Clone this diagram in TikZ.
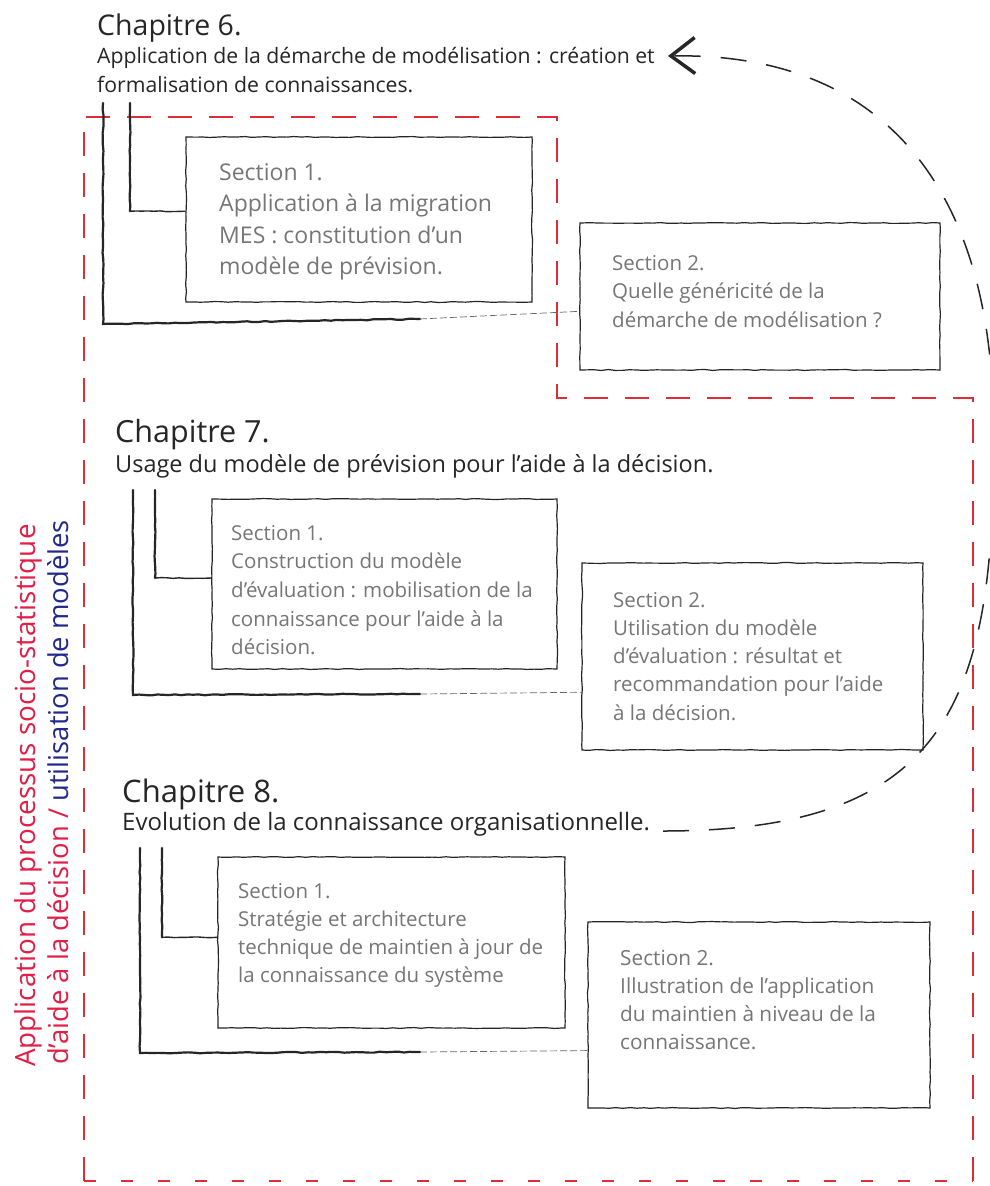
\documentclass[tikz,border=0pt]{standalone}
\usepackage{fontspec}
\setmainfont{Open Sans}
\usetikzlibrary{arrows.meta,decorations.pathmorphing,calc}
\definecolor{framered}{RGB}{222,45,55}
\definecolor{titlered}{RGB}{226,30,70}
\definecolor{titleblue}{RGB}{35,40,140}
\definecolor{sectgrey}{RGB}{118,118,118}
\definecolor{ink}{RGB}{38,38,38}
\newcommand\tlines[2]{\vtop{\baselineskip=#1\lineskiplimit=-100pt\lineskip=0pt\relax #2}}
\begin{document}
\begin{tikzpicture}[x=1pt,y=-1pt,
  sbox/.style={draw=ink, line width=1.2pt, inner sep=0pt, decorate,
    decoration={random steps,segment length=7pt,amplitude=0.45pt}},
  brk/.style={draw=ink, line width=2.2pt, line cap=round, decorate,
    decoration={random steps,segment length=6pt,amplitude=0.5pt}},
  brkmid/.style={draw=ink, line width=1.4pt, decorate,
    decoration={random steps,segment length=6pt,amplitude=0.4pt}},
  brkthin/.style={draw=ink!70, line width=0.7pt, dash pattern=on 7pt off 3pt},
  rframe/.style={draw=framered, line width=1.3pt, dash pattern=on 24pt off 17pt},
  rbottom/.style={draw=framered, line width=1.3pt, dash pattern=on 12pt off 25pt},
  arcline/.style={draw=ink, line width=1.5pt, dash pattern=on 26pt off 20pt},
  ttl/.style={anchor=base west, inner sep=0pt, text=ink, font=\fontsize{28.5}{30}\selectfont},
  subt/.style={anchor=base west, inner sep=0pt, text=ink, font=\fontsize{21.2}{29}\selectfont},
  sect/.style={anchor=base west, inner sep=0pt, text=sectgrey, font=\fontsize{20.5}{28.5}\selectfont},
  side/.style={rotate=90, anchor=base west, inner sep=0pt}
]
\pgfmathsetseed{7}
\useasboundingbox (0,0) rectangle (989,1186);
\fill[white] (0,0) rectangle (989,1186);

% ---------------- red frame ----------------
\coordinate (rA) at (84,1181);
\coordinate (rB) at (84,117);
\coordinate (rC) at (557,117);
\coordinate (rD) at (557,398);
\coordinate (rE) at (973,398);
\coordinate (rF) at (973,1181);
\draw[rframe] (rA) -- (rB) -- (rC) -- (rD) -- (rE) -- (rF);
\draw[rbottom] (rA) -- (rF);

% ---------------- side text ----------------
\node[side, text=titlered, font=\fontsize{27.8}{28}\selectfont] (side1) at (35,1067) {Application du processus socio-statistique};
\node[side, text=titlered, font=\fontsize{27.4}{28}\selectfont] (side2) at (68,1065) {d’aide à la décision / \textcolor{titleblue}{utilisation de modèles}};

% ---------------- Chapitre 6 ----------------
\node[ttl] (c6) at (97,35) {Chapitre 6.};
\node[subt] (sub6) at (97,63) {\tlines{29pt}{\hbox{Application de la démarche de modélisation : création et}\hbox{formalisation de connaissances.}}};

\node[sbox, minimum width=346pt, minimum height=165pt] (s61) at (359,219.5) {};
\node[sbox, minimum width=360pt, minimum height=147pt] (s62) at (760,296.5) {};
\node[sect, font=\fontsize{23}{31.5}\selectfont] (t61) at (219,180) {\tlines{31.5pt}{\hbox{Section 1.}\hbox{Application à la migration}\hbox{MES : constitution d’un}\hbox{modèle de prévision.}}};
\node[sect] (t62) at (612,270) {\tlines{28.5pt}{\hbox{Section 2.}\hbox{Quelle généricité de la}\hbox{démarche de modélisation ?}}};

\coordinate (o6t) at (103,103);
\coordinate (o6c) at (103,324);
\coordinate (o6m) at (420,319);
\draw[brk] (o6t) -- (o6c) -- (o6m);
\draw[brkthin] (o6m) -- ($(s62.south west)!0.4!(s62.north west)$);
\coordinate (i6t) at (130,103);
\coordinate (i6e) at ($(s61.north west)!0.45!(s61.south west)$);
\draw[brk] (i6t) -- (i6t |- i6e);
\draw[brkmid] (i6t |- i6e) -- (i6e);

% ---------------- Chapitre 7 ----------------
\node[ttl, font=\fontsize{30.5}{32}\selectfont] (c7) at (115,442) {Chapitre 7.};
\node[subt, font=\fontsize{23.5}{29}\selectfont] (sub7) at (115,472) {Usage du modèle de prévision pour l’aide à la décision.};

\node[sbox, minimum width=345pt, minimum height=170pt] (s71) at (384.5,584) {};
\node[sbox, minimum width=341pt, minimum height=187pt] (s72) at (752.5,656.5) {};
\node[sect] (t71) at (231,540) {\tlines{28.7pt}{\hbox{Section 1.}\hbox{Construction du modèle}\hbox{d’évaluation : mobilisation de la}\hbox{connaissance pour l’aide à la}\hbox{décision.}}};
\node[sect] (t72) at (613,607) {\tlines{28.3pt}{\hbox{Section 2.}\hbox{Utilisation du modèle}\hbox{d’évaluation : résultat et}\hbox{recommandation pour l’aide}\hbox{à la décision.}}};

\coordinate (o7t) at (133,490);
\coordinate (o7c) at (133,695);
\coordinate (o7m) at (420,694);
\draw[brk] (o7t) -- (o7c) -- (o7m);
\draw[brkthin] (o7m) -- ($(s72.south west)!0.31!(s72.north west)$);
\coordinate (i7t) at (155,490);
\coordinate (i7e) at ($(s71.north west)!0.465!(s71.south west)$);
\draw[brk] (i7t) -- (i7t |- i7e);
\draw[brkmid] (i7t |- i7e) -- (i7e);

% ---------------- Chapitre 8 ----------------
\node[ttl, font=\fontsize{31}{32}\selectfont] (c8) at (122,802) {Chapitre 8.};
\node[subt, font=\fontsize{24}{29}\selectfont] (sub8) at (122,830) {Evolution de la connaissance organisationnelle.};

\node[sbox, minimum width=347pt, minimum height=171pt] (s81) at (391.5,942.5) {};
\node[sbox, minimum width=342pt, minimum height=186pt] (s82) at (759,1015) {};
\node[sect] (t81) at (238,898) {\tlines{28.3pt}{\hbox{Section 1.}\hbox{Stratégie et architecture}\hbox{technique de maintien à jour de}\hbox{la connaissance du système}}};
\node[sect, font=\fontsize{20.8}{28.3}\selectfont] (t82) at (620,965) {\tlines{28.3pt}{\hbox{Section 2.}\hbox{Illustration de l’application}\hbox{du maintien à niveau de la}\hbox{connaissance.}}};

\coordinate (o8t) at (140,848);
\coordinate (o8c) at (140,1053);
\coordinate (o8m) at (420,1052);
\draw[brk] (o8t) -- (o8c) -- (o8m);
\draw[brkthin] (o8m) -- ($(s82.south west)!0.31!(s82.north west)$);
\coordinate (i8t) at (162,848);
\coordinate (i8e) at ($(s81.north west)!0.47!(s81.south west)$);
\draw[brk] (i8t) -- (i8t |- i8e);
\draw[brkmid] (i8t |- i8e) -- (i8e);

% ---------------- return arc ----------------
\coordinate (arcS) at (663,831);
\coordinate (arcR) at (993,450);
\coordinate (arcT) at (668,56);
\draw[arcline, -{Straight Barb[length=24pt,width=36pt,line width=3.5pt]}]
  (arcS) .. controls (930,831) and (995,720) .. (arcR)
         .. controls (1000,210) and (900,52) .. (arcT);
\end{tikzpicture}
\end{document}
